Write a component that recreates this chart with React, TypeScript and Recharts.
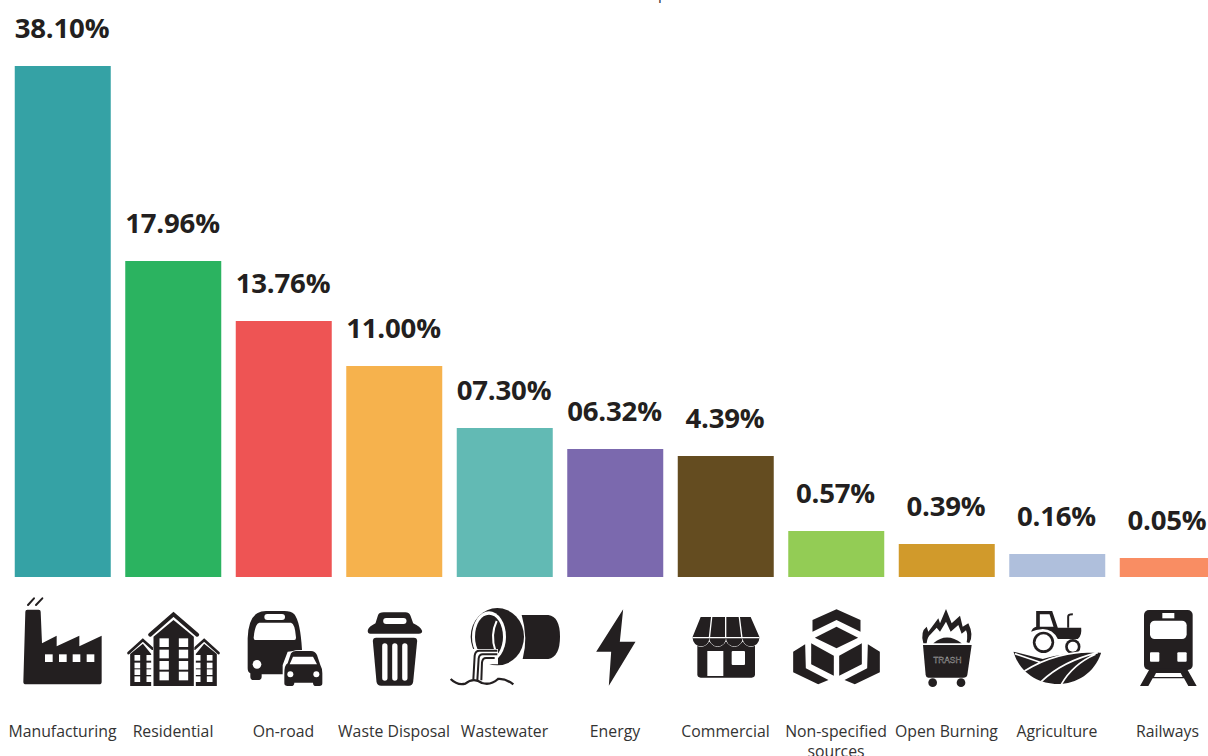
import React from 'react';
import { Bar, BarChart, Cell, LabelList, XAxis, YAxis } from 'recharts';

const sectors = [
  'Manufacturing',
  'Residential',
  'On-road',
  'Waste Disposal',
  'Wastewater',
  'Energy',
  'Commercial',
  'Non-specified sources',
  'Open Burning',
  'Agriculture',
  'Railways',
];
const shares = [38.1, 17.96, 13.76, 11.0, 7.3, 6.32, 4.39, 0.57, 0.39, 0.16, 0.05];
const shareLabels = [
  '38.10%',
  '17.96%',
  '13.76%',
  '11.00%',
  '07.30%',
  '06.32%',
  '4.39%',
  '0.57%',
  '0.39%',
  '0.16%',
  '0.05%',
];
const barColors = [
  '#35A2A5',
  '#2BB360',
  '#EE5454',
  '#F6B24D',
  '#62BAB4',
  '#7B69AE',
  '#644C20',
  '#93CC55',
  '#D19A2B',
  '#AFBFDC',
  '#F98D63',
];

const chartData = sectors.map((sector, i) => ({ sector, share: shares[i] }));

// the bars use a hand-tuned, non-linear axis so that small shares stay visible
const axisStops = [0, 0.05, 0.16, 0.39, 0.57, 4.39, 6.32, 7.3, 11, 13.76, 17.96, 38.1];
const axisHeights = [0, 19, 23, 33, 46, 121, 128, 149, 211, 256, 316, 511];

function stopScale(initialDomain: number[] = [0, 38.1], initialRange: number[] = [511, 0]) {
  let dom = initialDomain;
  let rng = initialRange;
  const scale: any = (v: number) => {
    let k = 1;
    while (k < axisStops.length - 1 && v > axisStops[k]) k++;
    const t = (v - axisStops[k - 1]) / (axisStops[k] - axisStops[k - 1]);
    const h = axisHeights[k - 1] + t * (axisHeights[k] - axisHeights[k - 1]);
    return rng[0] + (rng[1] - rng[0]) * (h / axisHeights[axisHeights.length - 1]);
  };
  scale.domain = (d?: number[]) => {
    if (d === undefined) return dom;
    dom = d;
    return scale;
  };
  scale.range = (r?: number[]) => {
    if (r === undefined) return rng;
    rng = r;
    return scale;
  };
  scale.copy = () => stopScale(dom, rng);
  scale.ticks = () => axisStops;
  return scale;
}

const INK = '#231F20';
const TEXT = '#333333';

// Sector icons, drawn on a 3x grid; the first number is the icon's centre on that grid
const Factory = () => (
  <g>
    <path
      d="M76 80Q76 74 82 74H116Q122 74 122 80L126 175L170 152V184L238 152V184L305 152V290Q305 298 297 298H78Q70 298 70 290Z"
      fill={INK}
    />
    {[135, 177, 218, 260].map((x) => (
      <rect key={x} x={x} y={208} width={23} height={23} fill="#fff" />
    ))}
    <path d="M84 60L102 40M108 60L127 40" stroke={INK} strokeWidth={6} fill="none" strokeLinecap="round" />
  </g>
);

const Tower = ({ x, apex, wins }: { x: number; apex: number; wins: number[] }) => (
  <g>
    <path
      d={`M${apex - 43} 204L${apex} 165L${apex + 29} 191`}
      stroke={INK}
      strokeWidth={8}
      fill="none"
      strokeLinecap="round"
    />
    <path d={`M${x} 207L${apex} 176L${x + 63} 207V303H${x}Z`} fill={INK} />
    {wins.map((wx) =>
      [210, 233, 253, 274].map((wy) => (
        <rect key={`${wx}-${wy}`} x={wx} y={wy} width={17} height={17} fill="#fff" />
      )),
    )}
  </g>
);

const Buildings = () => (
  <g>
    <Tower x={389} apex={427} wins={[402, 438]} />
    <g transform="translate(1038 0) scale(-1 1)">
      <Tower x={389} apex={427} wins={[402, 438]} />
    </g>
    <path d="M449 149L519 88L590 149" stroke={INK} strokeWidth={12} fill="none" strokeLinecap="round" />
    <path d="M459 155L519 105L580 155V303H459Z" fill={INK} stroke="#fff" strokeWidth={3} paintOrder="stroke" />
    {[477, 535].map((wx) =>
      [160, 194, 228, 260].map((wy) => (
        <rect key={`${wx}-${wy}`} x={wx} y={wy} width={28} height={26} fill="#fff" />
      )),
    )}
  </g>
);

const Vehicles = () => (
  <g>
    <path
      d="M740 250V160Q742 100 770 84Q780 78 795 78H850Q870 78 880 88Q898 110 903 195L860 200L845 240V268H782V275Q782 285 770 285H758Q748 285 748 275V265Q740 262 740 250Z"
      fill={INK}
    />
    <path d="M758 158Q762 115 775 113H870Q882 115 885 158Q885 165 880 165H763Q758 165 758 158Z" fill="#fff" />
    <rect x={790} y={87} width={62} height={18} rx={9} fill="#fff" />
    <circle cx={768} cy={238} r={13} fill="#fff" />
    <path
      d="M850 265Q850 240 860 235L870 205Q875 198 885 198H930Q942 198 948 210L958 240Q964 250 964 265V295Q964 303 955 303H945Q936 303 936 293H880Q880 303 870 303H860Q850 303 850 295Z"
      fill={INK}
      stroke="#fff"
      strokeWidth={5}
      paintOrder="stroke"
    />
    <path d="M866 238L876 215H936L948 238Z" fill="#fff" />
    <circle cx={868} cy={268} r={9} fill="#fff" />
    <circle cx={946} cy={268} r={9} fill="#fff" />
  </g>
);

const Bin = () => (
  <g>
    <path
      d="M82 135Q85 125 105 115L112 92Q115 82 130 82H195Q205 82 210 92L218 115Q240 125 245 138Q245 146 235 146H90Q80 146 82 135Z"
      fill={INK}
    />
    <rect x={128} y={99} width={70} height={18} rx={9} fill="#fff" />
    <path d="M97 168Q97 158 107 158H220Q230 158 230 168L218 290Q216 302 205 302H122Q110 302 108 290Z" fill={INK} />
    {[125, 155, 185].map((x) => (
      <rect key={x} x={x} y={175} width={16} height={112} rx={8} fill="#fff" />
    ))}
  </g>
);

const Outfall = () => (
  <g>
    <path d="M545 90H625Q660 95 660 155Q660 215 625 222H548Q565 160 545 90Z" fill={INK} />
    <ellipse cx={472} cy={155} rx={80} ry={86} fill={INK} />
    <ellipse cx={447} cy={155} rx={51} ry={76} fill="#fff" />
    <ellipse cx={447} cy={155} rx={42} ry={66} fill={INK} />
    <path d="M470 108Q450 150 466 196" stroke="#fff" strokeWidth={6} fill="none" />
    <path d="M392 192H474V238H444L436 290H392Z" fill="#fff" />
    <path
      d="M472 197H418Q406 197 404 212L400 284M472 208H428Q418 208 416 220L412 286M464 219H438Q428 219 426 232L424 286"
      stroke={INK}
      strokeWidth={6}
      fill="none"
    />
    <path d="M332 282Q352 302 376 296Q400 276 426 294Q452 302 474 282Q496 280 520 298" stroke={INK} strokeWidth={7} fill="none" />
  </g>
);

const Bolt = () => <path d="M848 73L767 200H812L805 302L885 170H838Z" fill={INK} />;

const Shop = () => (
  <g>
    <path d="M82 170H255V268Q255 278 245 278H92Q82 278 82 268Z" fill={INK} />
    <rect x={112} y={198} width={48} height={75} fill="#fff" />
    <rect x={185} y={198} width={40} height={42} rx={3} fill="#fff" />
    <path
      d="M92 96H242L268 155V160A25 24 0 0 1 218 160A25 24 0 0 1 168 160A25 24 0 0 1 118 160A25 24 0 0 1 68 160V155Z"
      fill={INK}
      stroke="#fff"
      strokeWidth={3}
      paintOrder="stroke"
    />
    <path d="M125 96L118 160M167 96V160M208 96L216 160M68 158H268" stroke="#fff" strokeWidth={4} fill="none" />
  </g>
);

const Box = () => (
  <g fill={INK}>
    <path d="M428 105L500 73L572 105V140L500 105L428 140Z" />
    <path d="M435 158L500 125L565 158L500 190Z" />
    <path d="M424 175L492 212V272L424 238Z" />
    <path d="M576 175L508 212V272L576 238Z" />
    <path d="M406 178L370 200V262L445 298L476 285L408 250Z" />
    <path d="M594 178L630 200V262L555 298L524 285L592 250Z" />
  </g>
);

const Cart = () => (
  <g>
    <path
      d="M-20 175Q-30 140 -10 125L-5 140L25 100L30 115L48 72L65 115L90 92L98 125L115 115Q132 150 118 174L110 172Q114 148 108 136L95 146L85 120L62 140L48 110L30 140L20 128L2 148Q-8 155 -10 175Z"
      fill={INK}
    />
    <path d="M10 175Q50 140 95 175Z" fill={INK} />
    <path d="M-21 180H125L112 270Q110 278 100 278H-5Q-12 278 -13 270Z" fill={INK} />
    <circle cx={8} cy={293} r={13} fill={INK} />
    <circle cx={93} cy={293} r={13} fill={INK} />
    <text x={52} y={234} textAnchor="middle" fontSize={25} fontFamily="'Liberation Sans'" fill={INK} stroke="#bbb" strokeWidth={1}>
      TRASH
    </text>
  </g>
);

const Tractor = () => (
  <g>
    <path d="M320 78H368L385 128H455Q458 150 445 162H385Q370 132 340 132Q318 134 305 140Q308 128 320 125Z" fill={INK} />
    <path d="M331 88H360L372 125H331Z" fill="#fff" />
    <path d="M416 128V95Q416 88 430 88" stroke={INK} strokeWidth={6} fill="none" />
    <circle cx={342} cy={172} r={32} fill={INK} />
    <circle cx={342} cy={172} r={24} fill="#fff" />
    <circle cx={430} cy={185} r={23} fill={INK} />
    <circle cx={430} cy={185} r={15} fill="#fff" />
    <path d="M252 200C270 265 330 297 385 297C440 297 495 265 515 203C480 200 390 205 340 222Z" fill={INK} />
    <path
      d="M256 206L332 232M285 258Q380 198 505 199M335 290Q400 228 505 203M395 299Q430 238 498 208"
      stroke="#fff"
      strokeWidth={5}
      fill="none"
    />
  </g>
);

const Train = () => (
  <g>
    <rect x={642} y={75} width={146} height={180} rx={15} fill={INK} />
    <rect x={660} y={107} width={110} height={55} rx={14} fill="#fff" />
    <rect x={697} y={84} width={36} height={16} fill="#fff" />
    <rect x={660} y={202} width={28} height={28} rx={3} fill="#fff" />
    <rect x={742} y={202} width={28} height={28} rx={3} fill="#fff" />
    <path d="M660 250L630 303H655L668 280H762L775 303H800L770 250Z" fill={INK} />
    <path d="M678 264H752L758 276H672Z" fill="#fff" />
  </g>
);

const sectorIcons = [
  { centre: 189, Icon: Factory },
  { centre: 519, Icon: Buildings },
  { centre: 849, Icon: Vehicles },
  { centre: 162, Icon: Bin },
  { centre: 495, Icon: Outfall },
  { centre: 825, Icon: Bolt },
  { centre: 168, Icon: Shop },
  { centre: 500, Icon: Box },
  { centre: 51, Icon: Cart },
  { centre: 384, Icon: Tractor },
  { centre: 714, Icon: Train },
];

const SectorTick = ({ x, y, index, payload }: any) => {
  const { centre, Icon } = sectorIcons[index];
  const words = String(payload.value).split(' ');
  const lines = payload.value === 'Non-specified sources' ? words : [payload.value];
  return (
    <g>
      <g transform={`translate(${x - centre / 3} ${y}) scale(${1 / 3})`}>
        <Icon />
      </g>
      {lines.map((line: string, i: number) => (
        <text
          key={line}
          x={x - 0.5}
          y={y + 152 + i * 19.5}
          textAnchor="middle"
          fontFamily="'Open Sans', sans-serif"
          fontSize={15.8}
          fill={TEXT}
        >
          {line}
        </text>
      ))}
    </g>
  );
};

const ShareLabel = ({ x, y, width, index }: any) => (
  <text
    x={x + width / 2 - 0.75}
    y={y - 28}
    textAnchor="middle"
    fontFamily="'Open Sans', sans-serif"
    fontWeight={700}
    fontSize={27.6}
    letterSpacing={-0.2}
    fill={INK}
  >
    {shareLabels[index]}
  </text>
);

export default function App() {
  return (
    <div style={{ position: 'absolute', left: 0, top: 0, width: 1208, height: 756, overflow: 'hidden', background: '#fff' }}>
      <BarChart
        width={1230}
        height={756}
        data={chartData}
        margin={{ top: 66, right: 6.75, bottom: 0, left: 7.75 }}
        barSize={96}
      >
        <XAxis
          dataKey="sector"
          height={179}
          axisLine={false}
          tickLine={false}
          interval={0}
          tick={<SectorTick />}
        />
        <YAxis hide type="number" domain={[0, 38.1]} scale={stopScale()} />
        <Bar dataKey="share" isAnimationActive={false}>
          {chartData.map((d, i) => (
            <Cell key={d.sector} fill={barColors[i]} />
          ))}
          <LabelList dataKey="share" content={<ShareLabel />} />
        </Bar>
        <text x={658} y={-1} fontFamily="'Open Sans', sans-serif" fontSize={15} fill={TEXT}>
          p
        </text>
      </BarChart>
    </div>
  );
}
